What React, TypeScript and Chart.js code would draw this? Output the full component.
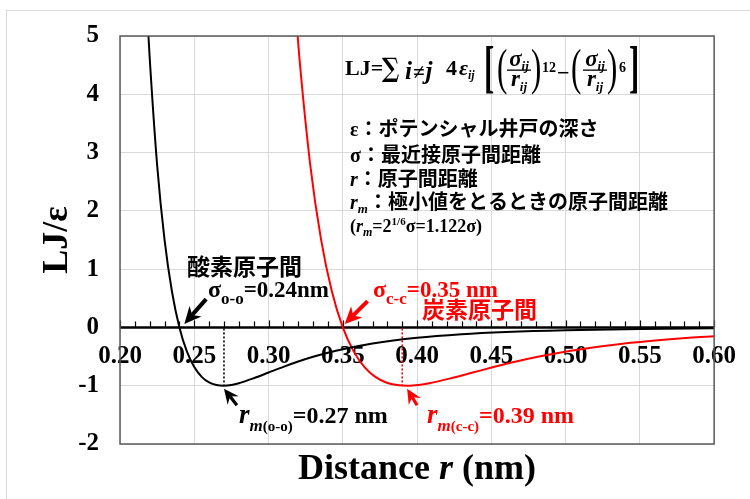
import { useEffect, useRef } from "react";
import { Chart, registerables } from "chart.js";

Chart.register(...registerables);

// ---- data ----
const oxygenR = [0.219, 0.22, 0.225, 0.23, 0.235, 0.24, 0.245, 0.25, 0.255, 0.26, 0.265, 0.27, 0.275, 0.28, 0.29, 0.3, 0.31, 0.32, 0.33, 0.34, 0.35, 0.37, 0.4, 0.43, 0.46, 0.5, 0.55, 0.6];
const oxygenLJ = [5.07, 4.622, 2.786, 1.502, 0.612, 0, -0.411, -0.68, -0.848, -0.944, -0.989, -1.0, -0.986, -0.957, -0.872, -0.774, -0.676, -0.585, -0.504, -0.434, -0.373, -0.276, -0.178, -0.117, -0.079, -0.048, -0.027, -0.016];
const carbonR = [0.3194, 0.3208, 0.3281, 0.3354, 0.3427, 0.35, 0.3573, 0.3646, 0.3719, 0.3792, 0.3865, 0.3938, 0.401, 0.4083, 0.4229, 0.4375, 0.4521, 0.4667, 0.4813, 0.4958, 0.5104, 0.5396, 0.5833, 0.6];
const carbonLJ = [5.07, 4.622, 2.786, 1.502, 0.612, 0, -0.411, -0.68, -0.848, -0.944, -0.989, -1.0, -0.986, -0.957, -0.872, -0.774, -0.676, -0.585, -0.504, -0.434, -0.373, -0.276, -0.178, -0.151];

const xTickMin = 0.2;
const xTickMax = 0.6;
const xTickStep = 0.05;
const xMinorStep = 0.01;
const yTickMin = -2;
const yTickMax = 5;
const yTickStep = 1;

// minima (r_m) and sigma markers
const minimaR = [0.27, 0.39];
const minimaLJ = [-1, -1];
const seriesColors = ["#000000", "#ff0000"];

// arrows [tailX, tailY, tipX, tipY] in data units
const arrowsData = [
  [0.258, 0.486, 0.2433, 0.06],
  [0.3667, 0.452, 0.3513, 0.06],
  [0.2787, -1.336, 0.27, -1.05],
  [0.4, -1.336, 0.3933, -1.05],
];

const FAM = '"Liberation Serif", "Noto Sans CJK JP", serif';

type Run = { t: string; s: number; i?: boolean; dy?: number; w?: string; dx?: number };

function fontOf(r: Run) {
  return `${r.i ? "italic " : ""}${r.w ?? "bold"} ${r.s}px ${FAM}`;
}

function runsWidth(ctx: CanvasRenderingContext2D, runs: Run[]) {
  let w = 0;
  for (const r of runs) {
    ctx.font = fontOf(r);
    w += ctx.measureText(r.t).width + (r.dx ?? 0);
  }
  return w;
}

function drawRuns(ctx: CanvasRenderingContext2D, x: number, y: number, runs: Run[], color: string) {
  let cx = x;
  ctx.fillStyle = color;
  ctx.textBaseline = "alphabetic";
  ctx.textAlign = "left";
  for (const r of runs) {
    ctx.font = fontOf(r);
    cx += r.dx ?? 0;
    ctx.fillText(r.t, cx, y + (r.dy ?? 0));
    cx += ctx.measureText(r.t).width;
  }
  return cx;
}

function drawScaled(ctx: CanvasRenderingContext2D, ch: string, x: number, y: number, size: number, sx: number, color: string, weight = "bold", family = FAM) {
  ctx.save();
  ctx.translate(x, y);
  ctx.scale(sx, 1);
  ctx.font = `${weight} ${size}px ${family}`;
  ctx.fillStyle = color;
  ctx.textAlign = "left";
  ctx.textBaseline = "alphabetic";
  ctx.fillText(ch, 0, 0);
  ctx.restore();
}

function drawArrow(ctx: CanvasRenderingContext2D, x1: number, y1: number, x2: number, y2: number, color: string, lw: number, hl: number, hw: number) {
  const a = Math.atan2(y2 - y1, x2 - x1);
  const c = Math.cos(a), s = Math.sin(a);
  const bx = x2 - hl * c, by = y2 - hl * s;
  ctx.save();
  ctx.strokeStyle = color;
  ctx.fillStyle = color;
  ctx.lineWidth = lw;
  ctx.beginPath();
  ctx.moveTo(x1, y1);
  ctx.lineTo(bx + 3 * c, by + 3 * s);
  ctx.stroke();
  ctx.beginPath();
  ctx.moveTo(x2, y2);
  ctx.lineTo(bx - hw * s - 2 * c, by + hw * c - 2 * s);
  ctx.lineTo(bx + 3 * c, by + 3 * s);
  ctx.lineTo(bx + hw * s - 2 * c, by - hw * c - 2 * s);
  ctx.closePath();
  ctx.fill();
  ctx.restore();
}

function fraction(ctx: CanvasRenderingContext2D, cx: number, color: string) {
  const num: Run[] = [{ t: "σ", s: 23, i: true }, { t: "ij", s: 13, i: true, dy: 4 }];
  const den: Run[] = [{ t: "r", s: 23, i: true }, { t: "ij", s: 13, i: true, dy: 5 }];
  const wn = runsWidth(ctx, num);
  const wd = runsWidth(ctx, den);
  drawRuns(ctx, cx - wn / 2, 66, num, color);
  drawRuns(ctx, cx - wd / 2, 86, den, color);
  ctx.fillStyle = color;
  ctx.fillRect(cx - 12, 69.5, 24, 1.3);
}

const decor = {
  id: "decor",
  beforeDatasetsDraw(chart: any) {
    const ctx: CanvasRenderingContext2D = chart.ctx;
    const xs = chart.scales.x, ys = chart.scales.y;
    const ca = chart.chartArea;
    const y0 = ys.getPixelForValue(0);
    ctx.save();
    ctx.strokeStyle = "#000";
    ctx.lineWidth = 1.2;
    const n = Math.round((xTickMax - xTickMin) / xMinorStep);
    for (let i = 0; i <= n; i++) {
      const px = Math.round(xs.getPixelForValue(xTickMin + i * xMinorStep)) + 0.5;
      const major = i % 5 === 0;
      ctx.beginPath();
      ctx.moveTo(px, y0);
      ctx.lineTo(px, y0 - (major ? 7 : 6));
      ctx.stroke();
    }
    ctx.lineWidth = 2.5;
    ctx.beginPath();
    ctx.moveTo(ca.left, y0);
    ctx.lineTo(ca.right, y0);
    ctx.stroke();
    ctx.lineWidth = 1.6;
    ctx.setLineDash([2, 2]);
    minimaR.forEach((r, i) => {
      ctx.strokeStyle = seriesColors[i];
      const px = xs.getPixelForValue(r);
      ctx.beginPath();
      ctx.moveTo(px, y0 + 1);
      ctx.lineTo(px, ys.getPixelForValue(minimaLJ[i]));
      ctx.stroke();
    });
    ctx.restore();
  },
  afterDatasetsDraw(chart: any) {
    const ctx: CanvasRenderingContext2D = chart.ctx;
    const xs = chart.scales.x, ys = chart.scales.y;
    const ca = chart.chartArea;
    ctx.save();
    ctx.strokeStyle = "#595959";
    ctx.lineWidth = 1.5;
    ctx.strokeRect(ca.left, ca.top, ca.right - ca.left, ca.bottom - ca.top);
    ctx.strokeStyle = "#d9d9d9";
    ctx.lineWidth = 1;
    ctx.strokeRect(6.5, 10.5, 900, 700);

    const arrowStyles = [
      [4, 15, 8],
      [4, 15, 8],
      [3.2, 13, 7],
      [3.2, 13, 7],
    ];
    const arrowColors = ["#000", "#ff0000", "#000", "#ff0000"];
    arrowsData.forEach((a, i) => {
      const [lw, hl, hw] = arrowStyles[i];
      drawArrow(ctx, xs.getPixelForValue(a[0]), ys.getPixelForValue(a[1]), xs.getPixelForValue(a[2]), ys.getPixelForValue(a[3]), arrowColors[i], lw, hl, hw);
    });

    // formula
    const k = "#000";
    drawRuns(ctx, 345, 75, [{ t: "LJ=", s: 22 }], k);
    drawScaled(ctx, "∑", 382, 77, 27, 0.85, k, "bold", '"DejaVu Serif", serif');
    drawRuns(ctx, 405, 79, [{ t: "i", s: 25, i: true }, { t: "≠", s: 21, i: true, dx: 1 }, { t: "j", s: 25, i: true, dx: 1 }], k);
    drawRuns(ctx, 446, 75, [{ t: "4", s: 22 }], k);
    drawRuns(ctx, 459, 75, [{ t: "ε", s: 22, i: true }, { t: "ij", s: 12, i: true, dy: 4 }], k);
    drawScaled(ctx, "[", 484, 86, 56, 0.55, k);
    drawScaled(ctx, "(", 497, 84, 50, 0.62, k, "normal");
    fraction(ctx, 519, k);
    drawScaled(ctx, ")", 531, 84, 50, 0.62, k, "normal");
    drawRuns(ctx, 542, 72, [{ t: "12", s: 14 }], k);
    drawRuns(ctx, 557, 80, [{ t: "−", s: 22 }], k);
    drawScaled(ctx, "(", 571, 84, 50, 0.62, k, "normal");
    fraction(ctx, 595, k);
    drawScaled(ctx, ")", 607, 84, 50, 0.62, k, "normal");
    drawRuns(ctx, 619, 72, [{ t: "6", s: 14 }], k);
    drawScaled(ctx, "]", 629, 86, 56, 0.55, k);

    // description lines
    drawRuns(ctx, 350, 135.5, [{ t: "ε", s: 20 }, { t: "：ポテンシャル井戸の深さ", s: 20 }], k);
    drawRuns(ctx, 350, 161.5, [{ t: "σ", s: 20 }, { t: "：最近接原子間距離", s: 20 }], k);
    drawRuns(ctx, 350, 185.5, [{ t: "r", s: 20, i: true }, { t: "：原子間距離", s: 20 }], k);
    drawRuns(ctx, 350, 208.5, [{ t: "r", s: 20, i: true }, { t: "m", s: 13, i: true, dy: 4 }, { t: "：極小値をとるときの原子間距離", s: 20 }], k);
    drawRuns(ctx, 350, 232, [
      { t: "(", s: 18 },
      { t: "r", s: 18, i: true },
      { t: "m", s: 12, i: true, dy: 4 },
      { t: "=2", s: 18 },
      { t: "1/6", s: 11, dy: -7 },
      { t: "σ=1.122σ)", s: 18 },
    ], k);

    // annotations
    const red = "#ff0000";
    drawRuns(ctx, 187, 275, [{ t: "酸素原子間", s: 23 }], k);
    drawRuns(ctx, 208, 297, [{ t: "σ", s: 24 }, { t: "o-o", s: 17, dy: 7 }, { t: "=0.24nm", s: 23 }], k);
    drawRuns(ctx, 373, 297, [{ t: "σ", s: 24 }, { t: "c-c", s: 17, dy: 7 }, { t: "=0.35 nm", s: 23 }], red);
    drawRuns(ctx, 422, 318, [{ t: "炭素原子間", s: 23 }], red);
    drawRuns(ctx, 239, 423, [{ t: "r", s: 27, i: true }, { t: "m", s: 17, i: true, dy: 8 }, { t: "(o-o)", s: 15, dy: 8 }, { t: "=0.27 nm", s: 24 }], k);
    drawRuns(ctx, 427, 423, [{ t: "r", s: 27, i: true }, { t: "m", s: 17, i: true, dy: 8 }, { t: "(c-c)", s: 15, dy: 8 }, { t: "=0.39 nm", s: 24 }], red);

    // axis titles
    const xt: Run[] = [{ t: "Distance ", s: 36 }, { t: "r", s: 36, i: true }, { t: " (nm)", s: 36 }];
    const wx = runsWidth(ctx, xt);
    drawRuns(ctx, (ca.left + ca.right) / 2 - wx / 2, 479, xt, k);
    ctx.save();
    ctx.translate(67, (ca.top + ca.bottom) / 2);
    ctx.rotate(-Math.PI / 2);
    ctx.font = `bold 36px ${FAM}`;
    ctx.fillStyle = k;
    ctx.textAlign = "center";
    ctx.textBaseline = "alphabetic";
    ctx.fillText("LJ/ε", 0, 0);
    ctx.restore();
    ctx.restore();
  },
};

export default function App() {
  const ref = useRef<HTMLCanvasElement | null>(null);
  useEffect(() => {
    if (!ref.current) return;
    const tickFont = { family: FAM, size: 25, weight: "bold" as const };
    const chart = new Chart(ref.current, {
      type: "line",
      data: {
        datasets: [
          {
            data: oxygenR.map((r, i) => ({ x: r, y: oxygenLJ[i] })),
            borderColor: seriesColors[0],
            borderWidth: 2,
            pointRadius: 0,
            cubicInterpolationMode: "monotone",
            fill: false,
          },
          {
            data: carbonR.map((r, i) => ({ x: r, y: carbonLJ[i] })),
            borderColor: seriesColors[1],
            borderWidth: 2,
            pointRadius: 0,
            cubicInterpolationMode: "monotone",
            fill: false,
          },
        ],
      },
      options: {
        animation: false,
        responsive: false,
        devicePixelRatio: 1,
        layout: { padding: { left: 0, right: 29.5, top: 33, bottom: 55 } },
        plugins: { legend: { display: false }, tooltip: { enabled: false } },
        scales: {
          x: {
            type: "linear",
            position: { y: 0 } as any,
            min: xTickMin,
            max: xTickMax,
            ticks: {
              stepSize: xTickStep,
              autoSkip: false,
              maxRotation: 0,
              padding: 14,
              color: "#000",
              font: tickFont,
              callback: (v: any) => Number(v).toFixed(2),
            },
            grid: { color: "#d9d9d9", drawTicks: false, lineWidth: 1 },
            border: { display: false },
            afterFit: (s: any) => {
              s.height = 0;
            },
          },
          y: {
            type: "linear",
            position: "left",
            min: yTickMin,
            max: yTickMax,
            ticks: { stepSize: yTickStep, padding: 21, color: "#000", font: tickFont },
            grid: { color: "#d9d9d9", drawTicks: false, lineWidth: 1 },
            border: { display: false },
            afterFit: (s: any) => {
              s.width = 120;
            },
          },
        },
      } as any,
      plugins: [decor],
    });
    return () => chart.destroy();
  }, []);
  return (
    <div style={{ position: "fixed", left: 0, top: 0, width: 750, height: 499, background: "#fff" }}>
      <canvas ref={ref} width={750} height={499} style={{ display: "block" }} />
    </div>
  );
}
